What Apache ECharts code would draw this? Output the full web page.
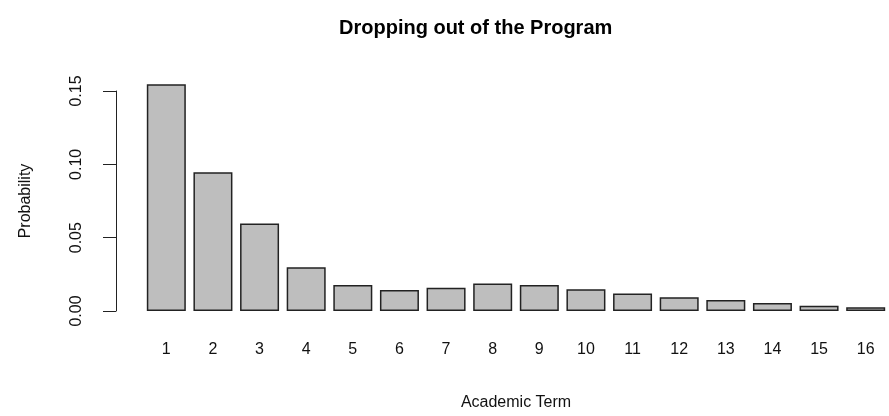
<!DOCTYPE html>
<html>
<head>
<meta charset="utf-8">
<script src="https://cdn.jsdelivr.net/npm/echarts@6/dist/echarts.min.js"></script>
<style>
  html, body { margin: 0; padding: 0; background: #fff; }
  #main { width: 889px; height: 416px; }
</style>
</head>
<body>
<div id="main"></div>
<script>
const terms = ['1', '2', '3', '4', '5', '6', '7', '8', '9', '10', '11', '12', '13', '14', '15', '16']
const probability = [0.1546, 0.0946, 0.0597, 0.0299, 0.0177, 0.0143, 0.0158, 0.0188,
    0.0177, 0.0149, 0.0120, 0.0093, 0.0075, 0.0054, 0.0036, 0.0025]
const yTicks = [0, 0.05, 0.10, 0.15]

const font = 'Liberation Sans, Arial, sans-serif'

const myChart = echarts.init(document.getElementById('main'))
const option = {
    animation: false,
    title: {
        text: 'Dropping out of the Program',
        left: 334,
        top: 13,
        textStyle: {
            fontFamily: font,
            fontSize: 20,
            fontWeight: 'bold',
            color: '#000'
        }
    },
    grid: {
        left: 143,
        width: 752,
        top: 91,
        bottom: 104
    },
    xAxis: {
        type: 'category',
        data: terms,
        axisLine: { show: false },
        axisTick: { show: false },
        axisLabel: {
            fontFamily: font,
            fontSize: 16,
            color: '#111',
            margin: 31
        },
        name: 'Academic Term',
        nameLocation: 'middle',
        nameGap: 84,
        nameTextStyle: {
            fontFamily: font,
            fontSize: 16,
            color: '#111'
        }
    },
    yAxis: {
        type: 'value',
        min: 0,
        max: yTicks[yTicks.length - 1],
        interval: 0.05,
        offset: 27,
        splitLine: { show: false },
        axisLine: { show: true, lineStyle: { color: '#222', width: 1 } },
        axisTick: { show: true, length: 13, lineStyle: { color: '#222' } },
        axisLabel: {
            fontFamily: font,
            fontSize: 16,
            color: '#111',
            rotate: 90,
            margin: 31,
            formatter: v => v.toFixed(2)
        },
        name: 'Probability',
        nameLocation: 'middle',
        nameGap: 82,
        nameTextStyle: {
            fontFamily: font,
            fontSize: 16,
            color: '#111'
        }
    },
    series: [
        {
            name: 'probability',
            type: 'bar',
            data: probability,
            barWidth: 39,
            clip: false,
            itemStyle: {
                color: '#bebebe',
                borderColor: '#222',
                borderWidth: 1.5
            }
        }
    ]
}
option && myChart.setOption(option)

window.onresize = () => {
    myChart.resize()
}
</script>
</body>
</html>
